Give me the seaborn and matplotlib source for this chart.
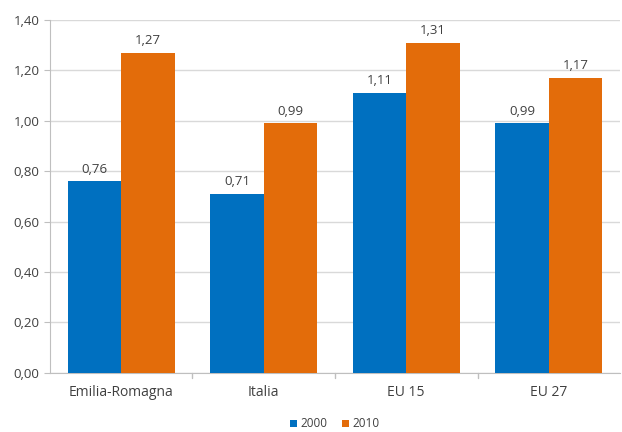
import pandas as pd
import matplotlib.pyplot as plt
import seaborn as sb

sb.set_style('white')
plt.rcParams['font.family'] = ['Open Sans', 'DejaVu Sans']

regioni = ['Emilia-Romagna', 'Italia', 'EU 15', 'EU 27']
anni = ['2000', '2010']
val_2000 = [0.76, 0.71, 1.11, 0.99]
val_2010 = [1.27, 0.99, 1.31, 1.17]

df = pd.DataFrame({
    'regione': regioni * 2,
    'anno': [anni[0]] * 4 + [anni[1]] * 4,
    'valore': val_2000 + val_2010,
})

fig = plt.figure(figsize=(6.22, 4.32), dpi=100)
ax = fig.add_axes([0.080, 0.137, 0.917, 0.817])

sb.barplot(data=df, x='regione', y='valore', hue='anno',
           palette=['#0070C0', '#E36C0A'], width=0.75, saturation=1,
           linewidth=0, ax=ax, zorder=3)

for cont in ax.containers:
    ax.bar_label(cont, labels=['{:.2f}'.format(v).replace('.', ',') for v in cont.datavalues],
                 padding=4, fontsize=9.5, color='#404040')

ax.set_ylim(0, 1.40)
ax.set_xlim(-0.5, 3.5)
ax.set_yticks([i * 0.2 for i in range(8)])
ax.set_yticklabels(['{:.2f}'.format(i * 0.2).replace('.', ',') for i in range(8)])
ax.yaxis.grid(True, color='#d9d9d9', linewidth=1, zorder=0)
ax.tick_params(axis='y', labelsize=9.5, colors='#404040', length=4, color='#bfbfbf', left=True)
ax.tick_params(axis='x', labelsize=10, colors='#404040', length=0, pad=9)
ax.set_xlabel('')
ax.set_ylabel('')
for s in ['top', 'right']:
    ax.spines[s].set_visible(False)
ax.spines['left'].set_color('#bfbfbf')
ax.spines['bottom'].set_color('#bfbfbf')
# separatori tra categorie
for x in [0.5, 1.5, 2.5]:
    ax.plot([x, x], [0, -0.02], color='#bfbfbf', lw=1, clip_on=False)

ax.legend(loc='center', bbox_to_anchor=(0.5, -0.145), ncol=2, frameon=False,
          fontsize=8.5, handlelength=0.6, handleheight=0.6, handletextpad=0.3, columnspacing=1.2,
          labelcolor='#404040', borderpad=0)

plt.savefig('out.png', dpi=100)
